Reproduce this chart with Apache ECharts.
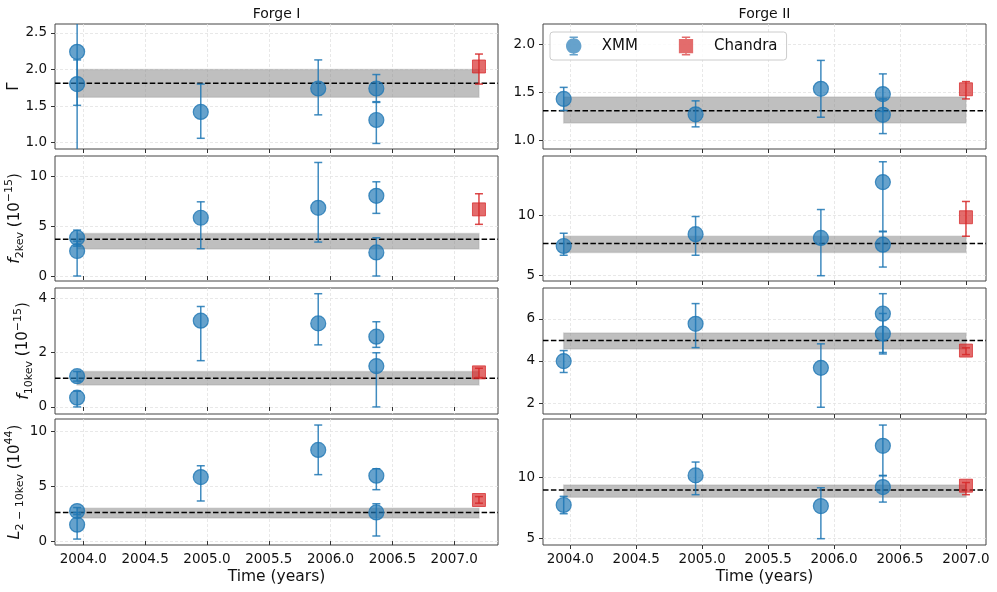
<!DOCTYPE html>
<html>
<head>
<meta charset="utf-8">
<script src="https://cdn.jsdelivr.net/npm/echarts@6/dist/echarts.min.js"></script>
<style>html,body{margin:0;padding:0;background:#fff}#c{width:997px;height:592px}</style>
</head>
<body>
<div id="c"></div>
<script>
// ---------- data ----------
const xTickValues = [2004.0, 2004.5, 2005.0, 2005.5, 2006.0, 2006.5, 2007.0];
const xRangeForgeI = [2003.771, 2007.354];
const xRangeForgeII = [2003.793, 2007.152];

const forgeITimes = [2003.95, 2003.95, 2004.95, 2005.90, 2006.37, 2006.37];
const forgeIChandraTime = [2007.20];
const forgeIITimes = [2003.95, 2004.95, 2005.90, 2006.37, 2006.37];
const forgeIIChandraTime = [2007.00];

// Forge I
const f1Gamma = [2.24, 1.80, 1.42, 1.74, 1.74, 1.31];
const f1GammaLo = [0.70, 1.51, 1.06, 1.38, 1.56, 0.99];
const f1GammaHi = [3.80, 2.13, 1.80, 2.13, 1.93, 1.55];
const f1GammaCh = [2.04], f1GammaChLo = [1.80], f1GammaChHi = [2.21];
const f1GammaMean = 1.81, f1GammaBand = [1.62, 2.00];

const f1F2 = [3.84, 2.51, 5.85, 6.85, 8.05, 2.37];
const f1F2Lo = [3.00, 0.00, 2.74, 3.41, 6.29, 0.00];
const f1F2Hi = [4.61, 3.50, 7.45, 11.40, 9.46, 3.84];
const f1F2Ch = [6.69], f1F2ChLo = [5.19], f1F2ChHi = [8.26];
const f1F2Mean = 3.68, f1F2Band = [2.71, 4.28];

const f1F10 = [1.13, 0.34, 3.17, 3.07, 2.58, 1.50];
const f1F10Lo = [0.95, 0.00, 1.70, 2.28, 2.19, 0.00];
const f1F10Hi = [1.30, 0.58, 3.69, 4.16, 3.13, 1.99];
const f1F10Ch = [1.27], f1F10ChLo = [1.08], f1F10ChHi = [1.42];
const f1F10Mean = 1.05, f1F10Band = [0.81, 1.30];

const f1L = [2.73, 1.49, 5.83, 8.30, 5.95, 2.61];
const f1LLo = [2.40, 0.18, 3.65, 6.05, 4.68, 0.46];
const f1LHi = [3.05, 2.60, 6.86, 10.57, 6.59, 3.40];
const f1LCh = [3.74], f1LChLo = [3.45], f1LChHi = [4.05];
const f1LMean = 2.61, f1LBand = [2.10, 2.98];

// Forge II
const f2Gamma = [1.43, 1.27, 1.535, 1.48, 1.265];
const f2GammaLo = [1.31, 1.14, 1.24, 1.30, 1.07];
const f2GammaHi = [1.55, 1.41, 1.83, 1.69, 1.43];
const f2GammaCh = [1.53], f2GammaChLo = [1.43], f2GammaChHi = [1.61];
const f2GammaMean = 1.307, f2GammaBand = [1.18, 1.45];

const f2F2 = [7.47, 8.45, 8.14, 12.78, 7.58];
const f2F2Lo = [6.70, 6.70, 5.00, 8.70, 5.72];
const f2F2Hi = [8.53, 9.92, 10.50, 14.47, 8.65];
const f2F2Ch = [9.86], f2F2ChLo = [8.28], f2F2ChHi = [11.17];
const f2F2Mean = 7.67, f2F2Band = [6.92, 8.28];

const f2F10 = [3.99, 5.76, 3.67, 6.24, 5.29];
const f2F10Lo = [3.45, 4.63, 1.80, 4.40, 4.33];
const f2F10Hi = [4.49, 6.72, 4.81, 7.19, 6.25];
const f2F10Ch = [4.49], f2F10ChLo = [4.30], f2F10ChHi = [4.62];
const f2F10Mean = 4.97, f2F10Band = [4.57, 5.32];

const f2L = [7.75, 10.19, 7.66, 12.63, 9.23];
const f2LLo = [7.03, 8.60, 4.97, 10.19, 7.99];
const f2LHi = [8.46, 11.29, 9.17, 14.34, 10.15];
const f2LCh = [9.34], f2LChLo = [8.60], f2LChHi = [9.60];
const f2LMean = 8.98, f2LBand = [8.38, 9.39];

// y ranges and ticks (row-major: [Forge I, Forge II])
const yRanges = [[0.914, 2.62], [0.91, 2.208], [-0.5, 12.05], [4.56, 14.95],
                 [-0.26, 4.37], [1.48, 7.46], [-0.36, 11.12], [4.45, 14.84]];
const yTickValues = [[1.0, 1.5, 2.0, 2.5], [1.0, 1.5, 2.0], [0, 5, 10], [5, 10],
                     [0, 2, 4], [2, 4, 6], [0, 5, 10], [5, 10]];
const yDecimals = [1, 1, 0, 0, 0, 0, 0, 0];
const yLabels = ['{g|Γ}',
  '{i|f}{s|2kev}{n| (10}{p|−15}{n|)}',
  '{i|f}{s|10kev}{n| (10}{p|−15}{n|)}',
  '{i|L}{s|2 − 10kev}{n| (10}{p|44}{n|)}'];
const columnTitles = ['Forge I', 'Forge II'];

// ---------- layout ----------
const FONT = 'DejaVu Sans';
const gridLeft = [55, 543];
const gridWidth = 443;
const gridTop = [24, 156, 288, 419];
const gridHeight = [125, 125, 126, 126];
const nameGaps = [30, 18, 18, 18];

const XMM_C = '#1f77b4', CH_C = '#d62728';
const XMM_FILL = 'rgba(31,119,180,0.85)', CH_FILL = 'rgba(214,39,40,0.85)';
const BAR = ' M5.9,0 L7.1,0 L7.1,16 L5.9,16 Z M3,0 L10,0 L10,1.2 L3,1.2 Z M3,14.8 L10,14.8 L10,16 L3,16 Z';
const XMM_ICON = 'path://M0,8 C0,4.41 2.91,1.5 6.5,1.5 C10.09,1.5 13,4.41 13,8 C13,11.59 10.09,14.5 6.5,14.5 C2.91,14.5 0,11.59 0,8 Z' + BAR;
const CH_ICON = 'path://M0.5,2 L12.5,2 L12.5,14 L0.5,14 Z' + BAR;

const panelData = [
  [forgeITimes, f1Gamma, f1GammaLo, f1GammaHi, forgeIChandraTime, f1GammaCh, f1GammaChLo, f1GammaChHi, f1GammaMean, f1GammaBand],
  [forgeIITimes, f2Gamma, f2GammaLo, f2GammaHi, forgeIIChandraTime, f2GammaCh, f2GammaChLo, f2GammaChHi, f2GammaMean, f2GammaBand],
  [forgeITimes, f1F2, f1F2Lo, f1F2Hi, forgeIChandraTime, f1F2Ch, f1F2ChLo, f1F2ChHi, f1F2Mean, f1F2Band],
  [forgeIITimes, f2F2, f2F2Lo, f2F2Hi, forgeIIChandraTime, f2F2Ch, f2F2ChLo, f2F2ChHi, f2F2Mean, f2F2Band],
  [forgeITimes, f1F10, f1F10Lo, f1F10Hi, forgeIChandraTime, f1F10Ch, f1F10ChLo, f1F10ChHi, f1F10Mean, f1F10Band],
  [forgeIITimes, f2F10, f2F10Lo, f2F10Hi, forgeIIChandraTime, f2F10Ch, f2F10ChLo, f2F10ChHi, f2F10Mean, f2F10Band],
  [forgeITimes, f1L, f1LLo, f1LHi, forgeIChandraTime, f1LCh, f1LChLo, f1LChHi, f1LMean, f1LBand],
  [forgeIITimes, f2L, f2LLo, f2LHi, forgeIIChandraTime, f2LCh, f2LChLo, f2LChHi, f2LMean, f2LBand]
];

function errRender(color) {
  return function (params, api) {
    const x = api.value(0), lo = api.value(1), hi = api.value(2);
    const p1 = api.coord([x, lo]), p2 = api.coord([x, hi]);
    const cs = params.coordSys;
    const cap = 4;
    const st = { stroke: color, lineWidth: 1.5, opacity: 0.85 };
    return {
      type: 'group',
      clipPath: { type: 'rect', shape: { x: cs.x, y: cs.y, width: cs.width, height: cs.height } },
      children: [
        { type: 'line', shape: { x1: p1[0], y1: p1[1], x2: p2[0], y2: p2[1] }, style: st },
        { type: 'line', shape: { x1: p1[0] - cap, y1: p1[1], x2: p1[0] + cap, y2: p1[1] }, style: st },
        { type: 'line', shape: { x1: p2[0] - cap, y1: p2[1], x2: p2[0] + cap, y2: p2[1] }, style: st }
      ]
    };
  };
}

function bandRender(params, api) {
  const a = api.coord([api.value(0), api.value(3)]);
  const b = api.coord([api.value(1), api.value(2)]);
  return { type: 'rect', shape: { x: a[0], y: a[1], width: b[0] - a[0], height: b[1] - a[1] },
           style: { fill: 'rgba(128,128,128,0.5)', stroke: 'rgba(160,160,160,0.35)', lineWidth: 1.5 } };
}

function meanRender(params, api) {
  const p = api.coord([api.value(0), api.value(1)]);
  const cs = params.coordSys;
  return { type: 'line', shape: { x1: cs.x, y1: p[1], x2: cs.x + cs.width, y2: p[1] },
           style: { stroke: '#000', lineWidth: 1.5, lineDash: [5.5, 2.4] } };
}

const grids = [], xAxes = [], yAxes = [], series = [];
for (let i = 0; i < 8; i++) {
  const row = Math.floor(i / 2), col = i % 2;
  grids.push({ left: gridLeft[col], top: gridTop[row], width: gridWidth, height: gridHeight[row],
               show: true, borderColor: '#444', borderWidth: 1, backgroundColor: 'transparent' });
  const xr = col === 0 ? xRangeForgeI : xRangeForgeII;
  xAxes.push({
    type: 'value', gridIndex: i, min: xr[0], max: xr[1],
    axisLine: { show: false },
    axisTick: { show: true, length: 4, inside: false, customValues: xTickValues, lineStyle: { color: '#333' } },
    axisLabel: { show: row === 3, customValues: xTickValues, margin: 7, color: '#111',
                 fontFamily: FONT, fontSize: 13.5, formatter: v => v.toFixed(1) },
    splitLine: { show: true, lineStyle: { color: '#e2e2e2', type: [3, 2], width: 0.8 } },
    name: row === 3 ? 'Time (years)' : '', nameLocation: 'middle', nameGap: 24,
    nameTextStyle: { fontFamily: FONT, fontSize: 15.5, color: '#111' }
  });
  const dec = yDecimals[i];
  yAxes.push({
    type: 'value', gridIndex: i, min: yRanges[i][0], max: yRanges[i][1],
    axisLine: { show: false },
    axisTick: { show: true, length: 4, inside: false, customValues: yTickValues[i], lineStyle: { color: '#333' } },
    axisLabel: { show: true, customValues: yTickValues[i], margin: 8, color: '#111',
                 fontFamily: FONT, fontSize: 13.5, formatter: v => v.toFixed(dec) },
    splitLine: { show: true, lineStyle: { color: '#e2e2e2', type: [3, 2], width: 0.8 } },
    name: col === 0 ? yLabels[row] : '', nameLocation: 'middle', nameGap: nameGaps[row],
    nameTextStyle: {
      fontFamily: FONT, fontSize: 15, color: '#111',
      rich: {
        g: { fontFamily: FONT, fontSize: 15, lineHeight: 20, color: '#111' },
        i: { fontFamily: FONT, fontStyle: 'italic', fontSize: 16, lineHeight: 22, color: '#111' },
        n: { fontFamily: FONT, fontSize: 15, lineHeight: 22, color: '#111' },
        s: { fontFamily: FONT, fontSize: 11, lineHeight: 11, verticalAlign: 'bottom', color: '#111' },
        p: { fontFamily: FONT, fontSize: 11, lineHeight: 12, verticalAlign: 'top', color: '#111' }
      }
    }
  });

  const d = panelData[i];
  const times = d[0], v = d[1], lo = d[2], hi = d[3], ct = d[4], cv = d[5], clo = d[6], chi = d[7], mean = d[8], band = d[9];
  const t0 = times[0], t1 = ct[0];

  series.push({ type: 'custom', name: 'band', xAxisIndex: i, yAxisIndex: i, z: 1, silent: true,
                renderItem: bandRender, encode: { x: [0, 1], y: [2, 3] },
                data: [[t0, t1, band[0], band[1]]] });
  series.push({ type: 'custom', name: 'mean', xAxisIndex: i, yAxisIndex: i, z: 2, silent: true,
                renderItem: meanRender, encode: { x: 0, y: 1 }, data: [[t0, mean]] });
  series.push({ type: 'scatter', name: 'XMM', xAxisIndex: i, yAxisIndex: i, z: 5,
                symbol: 'circle', symbolSize: 15,
                itemStyle: { color: XMM_FILL, borderColor: XMM_C, borderWidth: 1.2 },
                data: times.map((t, k) => [t, v[k]]) });
  series.push({ type: 'scatter', name: 'Chandra', xAxisIndex: i, yAxisIndex: i, z: 5,
                symbol: 'rect', symbolSize: 13,
                itemStyle: { color: CH_FILL, borderColor: 'rgba(214,39,40,0.9)', borderWidth: 1 },
                data: ct.map((t, k) => [t, cv[k]]) });
  series.push({ type: 'custom', name: 'XMM err', xAxisIndex: i, yAxisIndex: i, z: 3, silent: true,
                renderItem: errRender(XMM_C), encode: { x: 0, y: [1, 2] },
                data: times.map((t, k) => [t, lo[k], hi[k]]) });
  series.push({ type: 'custom', name: 'Chandra err', xAxisIndex: i, yAxisIndex: i, z: 3, silent: true,
                renderItem: errRender(CH_C), encode: { x: 0, y: [1, 2] },
                data: ct.map((t, k) => [t, clo[k], chi[k]]) });
}

const option = {
  backgroundColor: '#fff',
  animation: false,
  textStyle: { fontFamily: FONT },
  grid: grids, xAxis: xAxes, yAxis: yAxes, series: series,
  legend: {
    left: 550, top: 32, orient: 'horizontal',
    data: [{ name: 'XMM', icon: XMM_ICON }, { name: 'Chandra', icon: CH_ICON }],
    itemWidth: 46, itemHeight: 19, itemGap: 41,
    itemStyle: { borderWidth: 0 },
    padding: [4.5, 9, 4.5, 16],
    borderColor: '#cccccc', borderWidth: 1, borderRadius: 3,
    backgroundColor: 'rgba(255,255,255,0.8)',
    textStyle: { fontFamily: FONT, fontSize: 15, color: '#111' },
    selectedMode: false
  },
  graphic: columnTitles.map((t, c) => ({
    type: 'text', x: gridLeft[c] + gridWidth / 2, y: 14,
    style: { text: t, align: 'center', verticalAlign: 'middle', font: '14px "DejaVu Sans"', fill: '#111' }
  }))
};

const chart = echarts.init(document.getElementById('c'), null, { renderer: 'canvas' });
chart.setOption(option);
</script>
</body>
</html>
